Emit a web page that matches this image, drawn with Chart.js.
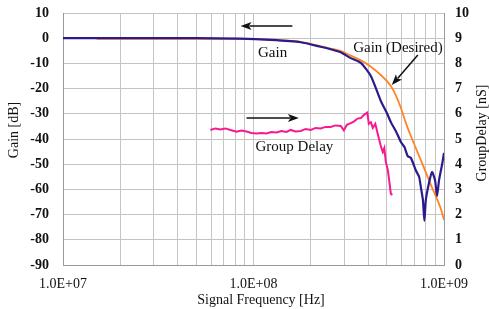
<!DOCTYPE html>
<html>
<head>
<meta charset="utf-8">
<script src="https://cdn.jsdelivr.net/npm/chart.js@4"></script>
<style>
  html, body { margin: 0; padding: 0; background: #fff; }
  #wrap { width: 489px; height: 309px; }
</style>
</head>
<body>
<div id="wrap"><canvas id="c"></canvas></div>
<script>
// Measured gain (dB)
const gainFreq = [1e7, 5e7, 8.5e7, 1.23e8, 1.77e8, 2.25e8, 2.54e8, 2.87e8, 3.24e8, 3.66e8, 4.13e8, 4.66e8,
  5.0e8, 5.26e8, 5.6e8, 5.94e8, 6.2e8, 6.45e8, 6.7e8, 7.12e8, 7.4e8, 7.57e8, 7.75e8, 7.89e8, 8.03e8,
  8.34e8, 8.65e8, 8.97e8, 9.19e8, 9.42e8, 9.76e8, 1e9];
const gainDb = [0, 0, -0.2, -0.7, -1.6, -3.4, -4.4, -5.6, -7.9, -9.8, -15, -24.9,
  -29.5, -33.3, -37, -41.2, -43.2, -46.8, -47.5, -52.5, -55, -59.4, -64.2, -72.5, -64.2,
  -57.5, -53.1, -56.3, -62.6, -56.3, -50.3, -45.5];

// Desired gain (dB)
const desiredFreq = [1.5e7, 8.5e7, 1.77e8, 2.25e8, 2.54e8, 2.87e8, 3.24e8, 3.66e8, 4.13e8, 4.66e8,
  5.26e8, 5.6e8, 5.94e8, 6.31e8, 6.7e8, 7.57e8, 8.55e8, 9.65e8, 1e9];
const desiredDb = [-0.3, -0.3, -1.5, -3.2, -4.1, -5.1, -6.9, -8.8, -11.3, -14.6,
  -19, -22.9, -27.7, -33.7, -38.8, -48.5, -58.3, -68, -72.1];

// Group delay (nS, right axis)
const delayFreq = [5.94e7, 6.31e7, 6.7e7, 7.12e7, 7.57e7, 8.14e7, 8.65e7, 9.19e7, 9.76e7, 1.04e8,
  1.10e8, 1.17e8, 1.24e8, 1.32e8, 1.40e8, 1.49e8, 1.57e8, 1.66e8, 1.77e8, 1.88e8, 2.0e8, 2.12e8,
  2.25e8, 2.39e8, 2.54e8, 2.70e8, 2.87e8, 2.98e8, 3.09e8, 3.24e8, 3.36e8, 3.52e8, 3.66e8, 3.79e8,
  3.96e8, 4.03e8, 4.13e8, 4.23e8, 4.36e8, 4.49e8, 4.66e8, 4.77e8, 4.86e8, 4.95e8, 5.07e8, 5.17e8,
  5.26e8, 5.36e8];
const delayNs = [5.36, 5.42, 5.38, 5.42, 5.36, 5.29, 5.34, 5.30, 5.24, 5.22,
  5.24, 5.22, 5.28, 5.26, 5.32, 5.28, 5.36, 5.30, 5.32, 5.40, 5.36, 5.44,
  5.42, 5.48, 5.48, 5.54, 5.52, 5.34, 5.56, 5.63, 5.69, 5.81, 5.83, 5.95,
  6.05, 5.60, 5.67, 5.44, 5.60, 5.20, 4.72, 4.48, 4.64, 4.09, 3.77, 3.29,
  2.82, 2.78];

// Axis ticks
const xTickValues = [1e7, 2e7, 3e7, 4e7, 5e7, 6e7, 7e7, 8e7, 9e7,
  1e8, 2e8, 3e8, 4e8, 5e8, 6e8, 7e8, 8e8, 9e8, 1e9];
const xMajorTicks = [1e7, 1e8, 1e9];
const xMajorLabels = ['1.0E+07', '1.0E+08', '1.0E+09'];

const toPoints = (xs, ys) => xs.map((x, i) => ({ x: x, y: ys[i] }));

const SERIF = '"Liberation Serif", "Times New Roman", serif';

function arrow(ctx, x1, y1, x2, y2) {
  // line from (x1,y1) to head at (x2,y2)
  const ang = Math.atan2(y2 - y1, x2 - x1);
  const len = 11, half = 4;
  ctx.beginPath();
  ctx.moveTo(x1, y1);
  ctx.lineTo(x2 - Math.cos(ang) * len * 0.8, y2 - Math.sin(ang) * len * 0.8);
  ctx.stroke();
  ctx.beginPath();
  ctx.moveTo(x2, y2);
  ctx.lineTo(x2 - Math.cos(ang) * len + Math.sin(ang) * half, y2 - Math.sin(ang) * len - Math.cos(ang) * half);
  ctx.lineTo(x2 - Math.cos(ang) * len * 0.75, y2 - Math.sin(ang) * len * 0.75);
  ctx.lineTo(x2 - Math.cos(ang) * len - Math.sin(ang) * half, y2 - Math.sin(ang) * len + Math.cos(ang) * half);
  ctx.closePath();
  ctx.fill();
}

const annotations = {
  id: 'annotations',
  afterDraw(chart) {
    const { ctx, scales: { x, y, y2 } } = chart;
    ctx.save();
    ctx.fillStyle = '#111';
    ctx.strokeStyle = '#111';
    ctx.lineWidth = 1.5;

    // Gain arrow (points to left axis) and label
    arrow(ctx, x.getPixelForValue(1.6e8), y.getPixelForValue(4.8), x.getPixelForValue(8.55e7), y.getPixelForValue(4.8));
    // Group delay arrow (points to right axis)
    arrow(ctx, x.getPixelForValue(9.19e7), y2.getPixelForValue(5.83), x.getPixelForValue(1.73e8), y2.getPixelForValue(5.83));
    // Desired arrow
    arrow(ctx, x.getPixelForValue(7.29e8), y.getPixelForValue(-6.7), x.getPixelForValue(5.32e8), y.getPixelForValue(-18.6));

    ctx.font = '15px ' + SERIF;
    ctx.textAlign = 'center';
    ctx.textBaseline = 'middle';
    ctx.fillText('Gain', x.getPixelForValue(1.26e8), y.getPixelForValue(-5.9));
    ctx.fillText('Group Delay', x.getPixelForValue(1.64e8), y2.getPixelForValue(4.68));
    ctx.fillText('Gain (Desired)', x.getPixelForValue(5.73e8), y.getPixelForValue(-3.9));

    // axis titles
    ctx.font = '14px ' + SERIF;
    ctx.fillText('Signal Frequency [Hz]', 261, 300);
    ctx.save();
    ctx.translate(14, 130);
    ctx.rotate(-Math.PI / 2);
    ctx.fillText('Gain [dB]', 0, 0);
    ctx.restore();
    ctx.save();
    ctx.translate(482, 133);
    ctx.rotate(-Math.PI / 2);
    ctx.fillText('GroupDelay [nS]', 0, 0);
    ctx.restore();
    ctx.restore();
  }
};

// fixed box sizes; drop the label padding chart.js adds above/below the vertical axes
const fitSide = (w) => (s) => { s.width = w; s.paddingTop = 0; s.paddingBottom = 0; };

new Chart(document.getElementById('c'), {
  type: 'line',
  data: {
    datasets: [
      {
        label: 'Gain',
        data: toPoints(gainFreq, gainDb),
        borderColor: '#2a1c8c',
        borderWidth: 2.2,
        pointRadius: 0,
        tension: 0.2,
        yAxisID: 'y',
      },
      {
        label: 'Gain (Desired)',
        data: toPoints(desiredFreq, desiredDb),
        borderColor: '#ff8526',
        borderWidth: 1.8,
        pointRadius: 0,
        cubicInterpolationMode: 'monotone',
        yAxisID: 'y',
      },
      {
        label: 'Group Delay',
        data: toPoints(delayFreq, delayNs),
        borderColor: '#f51a90',
        borderWidth: 2,
        pointRadius: 0,
        tension: 0,
        yAxisID: 'y2',
      },
    ],
  },
  options: {
    responsive: true,
    maintainAspectRatio: false,
    animation: false,
    layout: { padding: { top: 13, left: 0, right: 0, bottom: 0 } },
    plugins: { legend: { display: false }, tooltip: { enabled: false } },
    scales: {
      x: {
        type: 'logarithmic',
        min: 1e7,
        max: 1e9,
        afterBuildTicks: (s) => { s.ticks = xTickValues.map(v => ({ value: v })); },
        afterFit: (s) => { s.height = 44; },
        grid: { color: '#c4c4c4', drawTicks: false },
        border: { color: '#9a9a9a' },
        ticks: {
          autoSkip: false,
          maxRotation: 0,
          padding: 11,
          color: '#111',
          font: { family: SERIF, size: 14 },
          callback: (v) => {
            const i = xMajorTicks.indexOf(v);
            return i >= 0 ? xMajorLabels[i] : '';
          },
        },
      },
      y: {
        position: 'left',
        min: -90,
        max: 10,
        afterFit: fitSide(63),
        grid: { color: '#c4c4c4', drawTicks: false },
        border: { color: '#9a9a9a' },
        ticks: {
          stepSize: 10,
          padding: 14,
          color: '#111',
          font: { family: SERIF, size: 14, weight: 'bold' },
        },
      },
      y2: {
        position: 'right',
        min: 0,
        max: 10,
        afterFit: fitSide(45),
        grid: { drawOnChartArea: false, drawTicks: false },
        border: { color: '#9a9a9a' },
        ticks: {
          stepSize: 1,
          padding: 11,
          color: '#111',
          font: { family: SERIF, size: 14, weight: 'bold' },
        },
      },
    },
  },
  plugins: [annotations],
});
</script>
</body>
</html>
